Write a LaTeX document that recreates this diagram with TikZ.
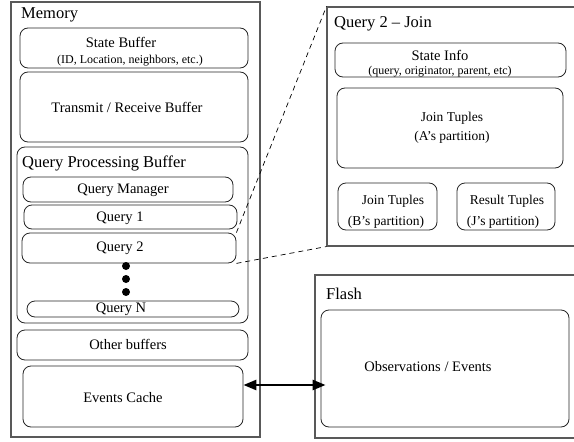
\documentclass[tikz,border=0pt]{standalone}
\usepackage{fontspec}
\setmainfont{Liberation Serif}
\usetikzlibrary{arrows.meta}
\begin{document}
\begin{tikzpicture}[x=1pt,y=-1pt,
  outer/.style={draw=black!65,line width=1.1pt,inner sep=0pt,rectangle},
  rbox/.style={draw=black!85,line width=0.8pt,rounded corners=8pt,inner sep=0pt,rectangle},
  head/.style={font=\fontsize{16.5}{19}\selectfont,anchor=west,inner sep=0pt},
  txt/.style={font=\fontsize{14.5}{17}\selectfont,inner sep=0pt},
  mtxt/.style={font=\fontsize{13.5}{16}\selectfont,inner sep=0pt},
  stxt/.style={font=\fontsize{12}{14}\selectfont,inner sep=0pt},
  dotn/.style={circle,fill=black,minimum size=8pt,inner sep=0pt},
  zoomline/.style={draw=black,line width=0.7pt,dash pattern=on 5pt off 4pt}]
\useasboundingbox (0,0) rectangle (574,442);
\clip (0,0) rectangle (574,442);
\fill[white] (0,0) rectangle (574,442);
% Memory
\node[outer,minimum width=249pt,minimum height=435pt] (mem) at (135.5,219.5) {};
\node[head] (memlbl) at (21,15) {Memory};
\node[rbox,minimum width=228pt,minimum height=40pt] (sb) at (134,48) {};
\node[txt] (sbt) at (121,42) {State Buffer};
\node[stxt] (sbs) at (130,61) {(ID, Location, neighbors, etc.)};
\node[rbox,minimum width=228pt,minimum height=70pt] (trb) at (134,107) {};
\node[txt] (trbt) at (127,107) {Transmit / Receive Buffer};
\node[rbox,minimum width=231pt,minimum height=176pt] (qpb) at (132.5,235) {};
\node[head] (qpbl) at (22,163) {Query Processing Buffer};
\node[rbox,minimum width=210pt,minimum height=25pt] (qm) at (128,189.5) {};
\node[txt] (qmt) at (123,190) {Query Manager};
\node[rbox,minimum width=213pt,minimum height=24pt] (q1) at (130.5,217) {};
\node[txt] (q1t) at (120,218) {Query 1};
\node[rbox,minimum width=214pt,minimum height=30pt] (q2) at (129,248) {};
\node[txt] (q2t) at (120,248) {Query 2};
\node[dotn] (d1) at (126,266) {};
\node[dotn] (d2) at (126,279) {};
\node[dotn] (d3) at (126,292) {};
\node[rbox,minimum width=212pt,minimum height=16pt] (qn) at (133,309) {};
\node[txt] (qnt) at (121,309.5) {Query N};
\node[rbox,minimum width=231pt,minimum height=30pt] (ob) at (132.5,345) {};
\node[txt] (obt) at (128,344) {Other buffers};
\node[rbox,minimum width=220pt,minimum height=61pt] (ec) at (133,396.5) {};
\node[txt] (ect) at (123,398) {Events Cache};
% Flash
\node[outer,minimum width=263pt,minimum height=163pt] (fl) at (446.5,356.5) {};
\node[head] (fll) at (326,294) {Flash};
\node[rbox,minimum width=248pt,minimum height=117pt] (obs) at (445,368.5) {};
\node[txt] (obst) at (428,367) {Observations / Events};
% Query 2 - Join
\node[outer,minimum width=251pt,minimum height=239pt] (qj) at (452.5,126.5) {};
\node[head] (qjl) at (334,24) {Query 2 -- Join};
\node[rbox,minimum width=231pt,minimum height=34pt] (si) at (450.5,60) {};
\node[txt] (sit) at (440,55) {State Info};
\node[stxt] (sis) at (440,72) {(query, originator, parent, etc)};
\node[rbox,minimum width=226pt,minimum height=80pt] (ja) at (450,128) {};
\node[mtxt] (jat1) at (452,118) {Join Tuples};
\node[mtxt] (jat2) at (452,137) {(A’s partition)};
\node[rbox,minimum width=99pt,minimum height=47pt] (jb) at (387.5,206.5) {};
\node[mtxt] (jbt1) at (393,201) {Join Tuples};
\node[mtxt] (jbt2) at (386,222) {(B’s partition)};
\node[rbox,minimum width=98pt,minimum height=47pt] (rt) at (506,206.5) {};
\node[mtxt] (rtt1) at (507,201) {Result Tuples};
\node[mtxt] (rtt2) at (503,222) {(J’s partition)};
% zoom lines
\draw[zoomline] (q2.north east) -- (qj.north west);
\draw[zoomline] (q2.south east) -- (qj.south west);
% arrow
\draw[line width=2.6pt,{Triangle[length=13pt,width=10pt]}-{Triangle[length=13pt,width=10pt]}]
  ([yshift=11.5pt]ec.east) -- ([xshift=5pt,yshift=11.5pt]ec.east -| obs.west);
\end{tikzpicture}
\end{document}
